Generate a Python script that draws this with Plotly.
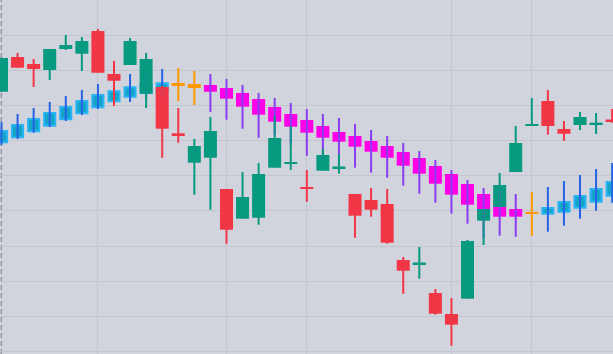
import plotly.graph_objects as go

# ---- data (price units) ----
idx = list(range(39))

main_open  = [73.96, 83.85, 81.85, 80.14, 86.13, 84.79, 91.25, 79.00, 81.57, 73.39,
              75.30, 62.11, 53.73, 55.16, 46.24, 37.78, 38.06, 52.31, 53.45, 46.72,
              51.45, 52.14, 44.81, 43.11, 41.97, 26.01, 24.79, 16.61, 10.63, 14.99,
              37.21, 41.11, 51.08, 64.19, 71.31, 63.33, 64.47, 64.70, 66.04]
main_high  = [83.70, 84.99, 83.28, 86.13, 90.11, 89.54, 91.82, 82.71, 89.26, 84.99,
              75.58, 69.32, 60.48, 66.75, 46.24, 51.08, 53.65, 67.04, 64.19, 51.65,
              57.64, 56.21, 44.81, 46.52, 46.24, 26.87, 29.72, 17.75, 15.19, 31.71,
              40.54, 50.80, 64.19, 72.17, 74.44, 65.61, 68.18, 67.89, 69.03]
main_low   = [73.87, 80.78, 75.30, 77.29, 85.84, 79.86, 79.35, 69.89, 81.57, 69.32,
              55.16, 59.43, 44.62, 40.34, 30.66, 37.78, 36.07, 52.31, 51.65, 42.62,
              51.45, 50.60, 32.36, 38.35, 30.66, 16.41, 20.68, 10.43, 1.60, 14.99,
              30.28, 41.11, 51.08, 64.19, 61.71, 60.00, 63.05, 61.91, 65.13]
main_close = [83.56, 80.80, 80.43, 86.13, 87.26, 88.40, 79.37, 77.09, 88.40, 83.28,
              63.42, 61.62, 58.49, 62.76, 34.64, 43.96, 50.51, 60.77, 53.93, 46.24,
              55.93, 52.65, 38.63, 40.34, 30.94, 22.96, 25.30, 10.71, 7.58, 31.42,
              40.54, 47.38, 59.34, 64.62, 64.19, 61.99, 66.75, 65.13, 65.61]

sig_open  = [59.54, 60.97, 62.68, 64.27, 66.10, 67.81, 69.52, 71.23, 72.54, 73.59,
             73.87, 75.58, 75.01, 75.87, 75.01, 73.59, 71.88, 69.60, 67.61, 65.90,
             64.19, 62.48, 61.34, 59.91, 58.49, 56.78, 55.07, 52.79, 50.51, 47.66,
             44.81, 42.25, 40.54, 39.20, 39.20, 39.77, 40.91, 42.62, 44.33]
sig_high  = [65.33, 67.61, 69.32, 71.03, 72.74, 74.44, 76.15, 77.29, 79.00, 79.57,
             80.43, 80.71, 79.86, 79.00, 77.58, 75.87, 73.59, 72.17, 70.74, 69.03,
             67.61, 66.47, 64.76, 63.05, 61.34, 59.34, 57.07, 54.50, 51.65, 48.80,
             46.52, 45.95, 44.81, 45.38, 46.81, 48.52, 50.23, 51.94, 53.65]
sig_low   = [58.77, 60.48, 62.28, 63.90, 65.61, 67.32, 69.03, 69.89, 71.03, 71.88,
             72.45, 71.31, 70.17, 68.18, 65.98, 63.42, 60.85, 61.62, 58.77, 55.73,
             55.07, 53.93, 52.31, 50.88, 49.46, 47.18, 44.90, 42.34, 39.20, 36.35,
             32.28, 32.93, 32.65, 32.93, 34.07, 35.78, 37.78, 40.06, 42.34]
sig_close = [62.76, 64.47, 66.18, 67.89, 69.60, 71.31, 73.02, 74.07, 75.21, 76.15,
             76.35, 76.44, 76.15, 73.96, 71.97, 69.69, 67.41, 65.41, 63.99, 62.28,
             60.85, 59.72, 58.29, 56.87, 55.16, 52.88, 50.60, 47.75, 44.62, 41.77,
             39.69, 38.35, 38.35, 39.60, 40.83, 42.54, 44.25, 46.24, 48.23]
sig_state = ["up"] * 11 + ["flat"] * 2 + ["down"] * 20 + ["flat"] + ["up"] * 5

session_ticks = [6, 14, 19, 28, 33]

# ---- styles ----
BG = "#d1d4dc"
GRID = "#c3c6cf"
UP, DOWN = "#089981", "#f23645"
SIG_BODY = {"up": "#14a4c8", "flat": "#ff9800", "down": "#ff00e6"}
SIG_WICK = {"up": "#2563e6", "flat": "#ff9800", "down": "#8a3cf5"}
SIG_EDGE = {"up": "#2ab4f4", "flat": "#ff9800", "down": "#ff00e6"}

fig = go.Figure()


def wick_trace(xs, lo, hi, color):
    wx, wy = [], []
    for x, l, h in zip(xs, lo, hi):
        wx += [x, x, None]
        wy += [l, h, None]
    return go.Scatter(x=wx, y=wy, mode="lines", line=dict(color=color, width=2),
                      hoverinfo="skip", showlegend=False)


# signal series wicks
for st in ["up", "flat", "down"]:
    sel = [i for i in idx if sig_state[i] == st]
    fig.add_trace(wick_trace(sel, [sig_low[i] for i in sel], [sig_high[i] for i in sel],
                             SIG_WICK[st]))

# signal series bodies
fig.add_trace(go.Bar(
    x=idx,
    base=[min(o, c) for o, c in zip(sig_open, sig_close)],
    y=[abs(c - o) for o, c in zip(sig_open, sig_close)],
    width=[0.69 if s == "up" else 0.81 for s in sig_state],
    marker=dict(color=[SIG_BODY[s] for s in sig_state],
                line=dict(color=[SIG_EDGE[s] for s in sig_state],
                          width=[2 if s == "up" else 0 for s in sig_state])),
    hoverinfo="skip", showlegend=False))

# main series wicks
main_dir = ["up" if c >= o else "down" for o, c in zip(main_open, main_close)]
for st, col in [("up", UP), ("down", DOWN)]:
    sel = [i for i in idx if main_dir[i] == st]
    fig.add_trace(wick_trace(sel, [main_low[i] for i in sel], [main_high[i] for i in sel], col))

# main series bodies
fig.add_trace(go.Bar(
    x=idx,
    base=[min(o, c) for o, c in zip(main_open, main_close)],
    y=[abs(c - o) for o, c in zip(main_open, main_close)],
    width=0.81,
    marker=dict(color=[UP if d == "up" else DOWN for d in main_dir], line=dict(width=0)),
    hoverinfo="skip", showlegend=False))

fig.add_shape(type="line", xref="x", yref="paper", x0=-0.012, x1=-0.012, y0=0, y1=1,
              line=dict(color="#9598a1", width=1.5, dash="5px,3px"), layer="below")

fig.update_layout(
    width=613, height=354, margin=dict(l=0, r=0, t=0, b=0),
    paper_bgcolor=BG, plot_bgcolor=BG, barmode="overlay", showlegend=False,
    xaxis=dict(range=[-0.0933, 38.053], tickmode="array", tickvals=session_ticks,
               showticklabels=False, ticks="", showgrid=True, gridcolor=GRID, gridwidth=1,
               zeroline=False, showline=False, fixedrange=True),
    yaxis=dict(range=[-0.77, 100.09], dtick=10, tick0=0, showticklabels=False, ticks="",
               showgrid=True, gridcolor=GRID, gridwidth=1, zeroline=False,
               showline=False, fixedrange=True),
)

fig.write_html("out.html", config={"displayModeBar": False})
